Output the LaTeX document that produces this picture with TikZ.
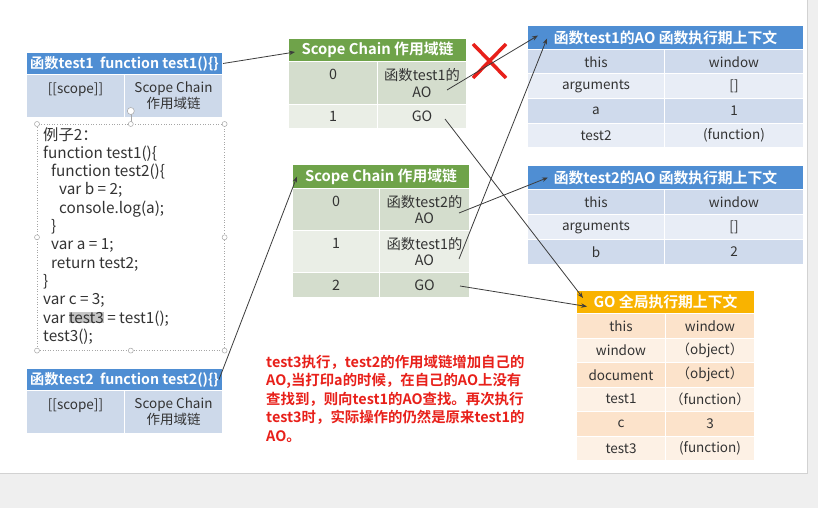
\documentclass[tikz,border=0pt]{standalone}
\usepackage{fontspec}
\setmainfont[BoldFont={Noto Sans CJK SC Bold}]{Noto Sans CJK SC}
\usetikzlibrary{arrows.meta,calc}
\definecolor{bgband}{HTML}{EFEFEF}
\definecolor{txt}{HTML}{333333}
\definecolor{lin}{HTML}{3C3C3C}
\definecolor{bhdr}{HTML}{4F8ED3}
\definecolor{brow1}{HTML}{CFDAEC}
\definecolor{brow2}{HTML}{E8EDF6}
\definecolor{frow}{HTML}{CDD9EA}
\definecolor{ghdr}{HTML}{6FA34A}
\definecolor{grow1}{HTML}{D4DDCD}
\definecolor{grow2}{HTML}{EAEEE6}
\definecolor{ohdr}{HTML}{F9B300}
\definecolor{orow1}{HTML}{FCE3CB}
\definecolor{orow2}{HTML}{FDF1E5}
\definecolor{redtxt}{HTML}{E8201A}
\definecolor{hl}{HTML}{C4C4C4}
\newcommand\mycell[7]{\node[cell, fill=#6, minimum width=#4pt, minimum height=#5pt] (#1) at (#2,#3) {#7};}
\newcommand\myscell[7]{\node[scell, fill=#6, minimum width=#4pt, minimum height=#5pt] (#1) at (#2,#3) {#7};}
\newcommand\myhdr[7]{\node[hdr, fill=#6, minimum width=#4pt, minimum height=#5pt] (#1) at (#2,#3) {#7};}
\begin{document}
\begin{tikzpicture}[x=1pt,y=-1pt,
  cell/.style={rectangle, draw=white, line width=1pt, inner sep=0pt, anchor=north west, text=txt, font=\fontsize{13.5}{16}\selectfont, align=center},
  scell/.style={cell, font=\fontsize{14.3}{16.5}\selectfont},
  hdr/.style={cell, text=white, font=\bfseries\fontsize{14.8}{16}\selectfont},
  fhdr/.style={hdr, font=\bfseries\fontsize{14.2}{16}\selectfont},
  conn/.style={draw=lin, line width=0.8pt, -{Stealth[length=6pt,width=4.5pt]}},
  handle/.style={circle, draw=gray!70, fill=white, inner sep=0pt, minimum size=5pt, line width=0.5pt}]
\useasboundingbox (0,0) rectangle (818,508);
\fill[bgband] (0,0) rectangle (818,508);
\fill[white] (0,0) rectangle (807,473);
\draw[gray!35, line width=0.8pt] (0,473) -- (807,473) -- (807,0);

% function test1 table
\node[fhdr, fill=bhdr, minimum width=196pt, minimum height=22pt] (fA) at (26,52) {函数test1\ \ function test1()\{\}};
\mycell{fAs}{26}{74}{98}{43}{frow}{[[scope]]\\\mbox{}}
\mycell{fAc}{124}{74}{98}{43}{frow}{Scope Chain\\作用域链}

% code box
\node[draw=gray!70, dotted, line width=0.6pt, minimum width=187pt, minimum height=226pt, anchor=north west, inner sep=0pt] (codebox) at (37,124) {};
\draw[gray!70, line width=0.5pt] (codebox.north) -- ++(0,-12);
\node[handle, minimum size=7pt] (rot) at ($(codebox.north)+(0,-13)$) {};
\foreach \a in {north west,north,north east,west,east,south west,south,south east}
  \node[handle] at (codebox.\a) {};
\node[anchor=north west, align=left, inner sep=0pt, font=\fontsize{15.3}{18.3}\selectfont, text=txt] (code) at (43,127) {例子2：\\
function test1()\{\\
\hspace{8pt}function test2()\{\\
\hspace{16pt}var b = 2;\\
\hspace{16pt}console.log(a);\\
\hspace{8pt}\}\\
\hspace{8pt}var a = 1;\\
\hspace{8pt}return test2;\\
\}\\
var c = 3;\\
var {\setlength\fboxsep{0pt}\colorbox{hl}{test3}} = test1();\\
test3();};

% function test2 table
\node[fhdr, fill=bhdr, minimum width=196pt, minimum height=22pt] (fB) at (26,368) {函数test2\ \ function test2()\{\}};
\mycell{fBs}{26}{390}{98}{43}{frow}{[[scope]]\\\mbox{}}
\mycell{fBc}{124}{390}{98}{43}{frow}{Scope Chain\\作用域链}

% scope chain 1
\myhdr{sA}{288}{38}{178}{23}{ghdr}{Scope Chain 作用域链}
\myscell{sAa}{288}{61}{89}{43}{grow1}{0\\\mbox{}}
\myscell{sAb}{377}{61}{89}{43}{grow1}{函数test1的\\AO}
\myscell{sAc}{288}{104}{89}{24}{grow2}{1}
\myscell{sAd}{377}{104}{89}{24}{grow2}{GO}

% scope chain 2
\myhdr{sB}{292}{164}{177}{24}{ghdr}{Scope Chain 作用域链}
\myscell{sBa}{292}{188}{87}{42}{grow1}{0\\\mbox{}}
\myscell{sBb}{379}{188}{90}{42}{grow1}{函数test2的\\AO}
\myscell{sBc}{292}{230}{87}{42}{grow2}{1\\\mbox{}}
\myscell{sBd}{379}{230}{90}{42}{grow2}{函数test1的\\AO}
\myscell{sBe}{292}{272}{87}{25}{grow1}{2}
\myscell{sBf}{379}{272}{90}{25}{grow1}{GO}

% AO of test1
\myhdr{aoA}{527}{25}{276}{24}{bhdr}{函数test1的AO 函数执行期上下文}
\mycell{aoA1}{527}{49}{137}{24.5}{brow1}{this}
\mycell{aoA2}{664}{49}{139}{24.5}{brow1}{window}
\mycell{aoA3}{527}{73.5}{137}{24.5}{brow2}{arguments}
\mycell{aoA4}{664}{73.5}{139}{24.5}{brow2}{[]}
\mycell{aoA5}{527}{98}{137}{24.5}{brow1}{a}
\mycell{aoA6}{664}{98}{139}{24.5}{brow1}{1}
\mycell{aoA7}{527}{122.5}{137}{24.5}{brow2}{test2}
\mycell{aoA8}{664}{122.5}{139}{24.5}{brow2}{(function)}

% AO of test2
\myhdr{aoB}{527}{165}{276}{24}{bhdr}{函数test2的AO 函数执行期上下文}
\mycell{aoB1}{527}{189}{137}{25}{brow1}{this}
\mycell{aoB2}{664}{189}{139}{25}{brow1}{window}
\mycell{aoB3}{527}{214}{137}{25}{brow2}{arguments}
\mycell{aoB4}{664}{214}{139}{25}{brow2}{[]}
\mycell{aoB5}{527}{239}{137}{25}{brow1}{b}
\mycell{aoB6}{664}{239}{139}{25}{brow1}{2}

% GO
\myhdr{go}{576}{290}{178}{23}{ohdr}{GO 全局执行期上下文}
\mycell{go1}{576}{313}{89}{24.5}{orow1}{this}
\mycell{go2}{665}{313}{89}{24.5}{orow1}{window}
\mycell{go3}{576}{337.5}{89}{24.5}{orow2}{window}
\mycell{go4}{665}{337.5}{89}{24.5}{orow2}{（object）}
\mycell{go5}{576}{362}{89}{24.5}{orow1}{document}
\mycell{go6}{665}{362}{89}{24.5}{orow1}{（object）}
\mycell{go7}{576}{386.5}{89}{24.5}{orow2}{test1}
\mycell{go8}{665}{386.5}{89}{24.5}{orow2}{（function）}
\mycell{go9}{576}{411}{89}{24.5}{orow1}{c}
\mycell{go10}{665}{411}{89}{24.5}{orow1}{3}
\mycell{go11}{576}{435.5}{89}{24.5}{orow2}{test3}
\mycell{go12}{665}{435.5}{89}{24.5}{orow2}{(function)}

% red note
\node[anchor=north west, align=left, inner sep=0pt, font=\bfseries\fontsize{14.4}{18.5}\selectfont, text=redtxt] (note) at (266,355) {test3执行，test2的作用域链增加自己的\\
AO,当打印a的时候，在自己的AO上没有\\
查找到，则向test1的AO查找。再次执行\\
test3时，实际操作的仍然是原来test1的\\
AO。};

% red cross
\draw[redtxt, line width=3.5pt] (473,44) -- (506,78) (506,44) -- (473,78);

% connectors
\draw[conn] (fA.east) -- ($(sA.west)+(7,2)$);
\draw[conn] ($(fB.east)+(-4,0)$) -- ($(sB.west)+(5,0)$);
\draw[conn] ($(sAb.south east)+(-20,-15)$) -- ($(aoA.west)+(11,-2)$);
\draw[conn] ($(sAd.south east)+(-22,-10)$) -- ($(go.west)+(7,-4)$);
\draw[conn] ($(sBb.south east)+(-11,-18)$) -- ($(aoB.west)+(21,0)$);
\draw[conn] ($(sBd.south east)+(-11,-14)$) -- ($(aoA.west)+(20,1)$);
\draw[conn] ($(sBf.south east)+(-10,-12)$) -- ($(go.west)+(11,4.5)$);
\end{tikzpicture}
\end{document}
